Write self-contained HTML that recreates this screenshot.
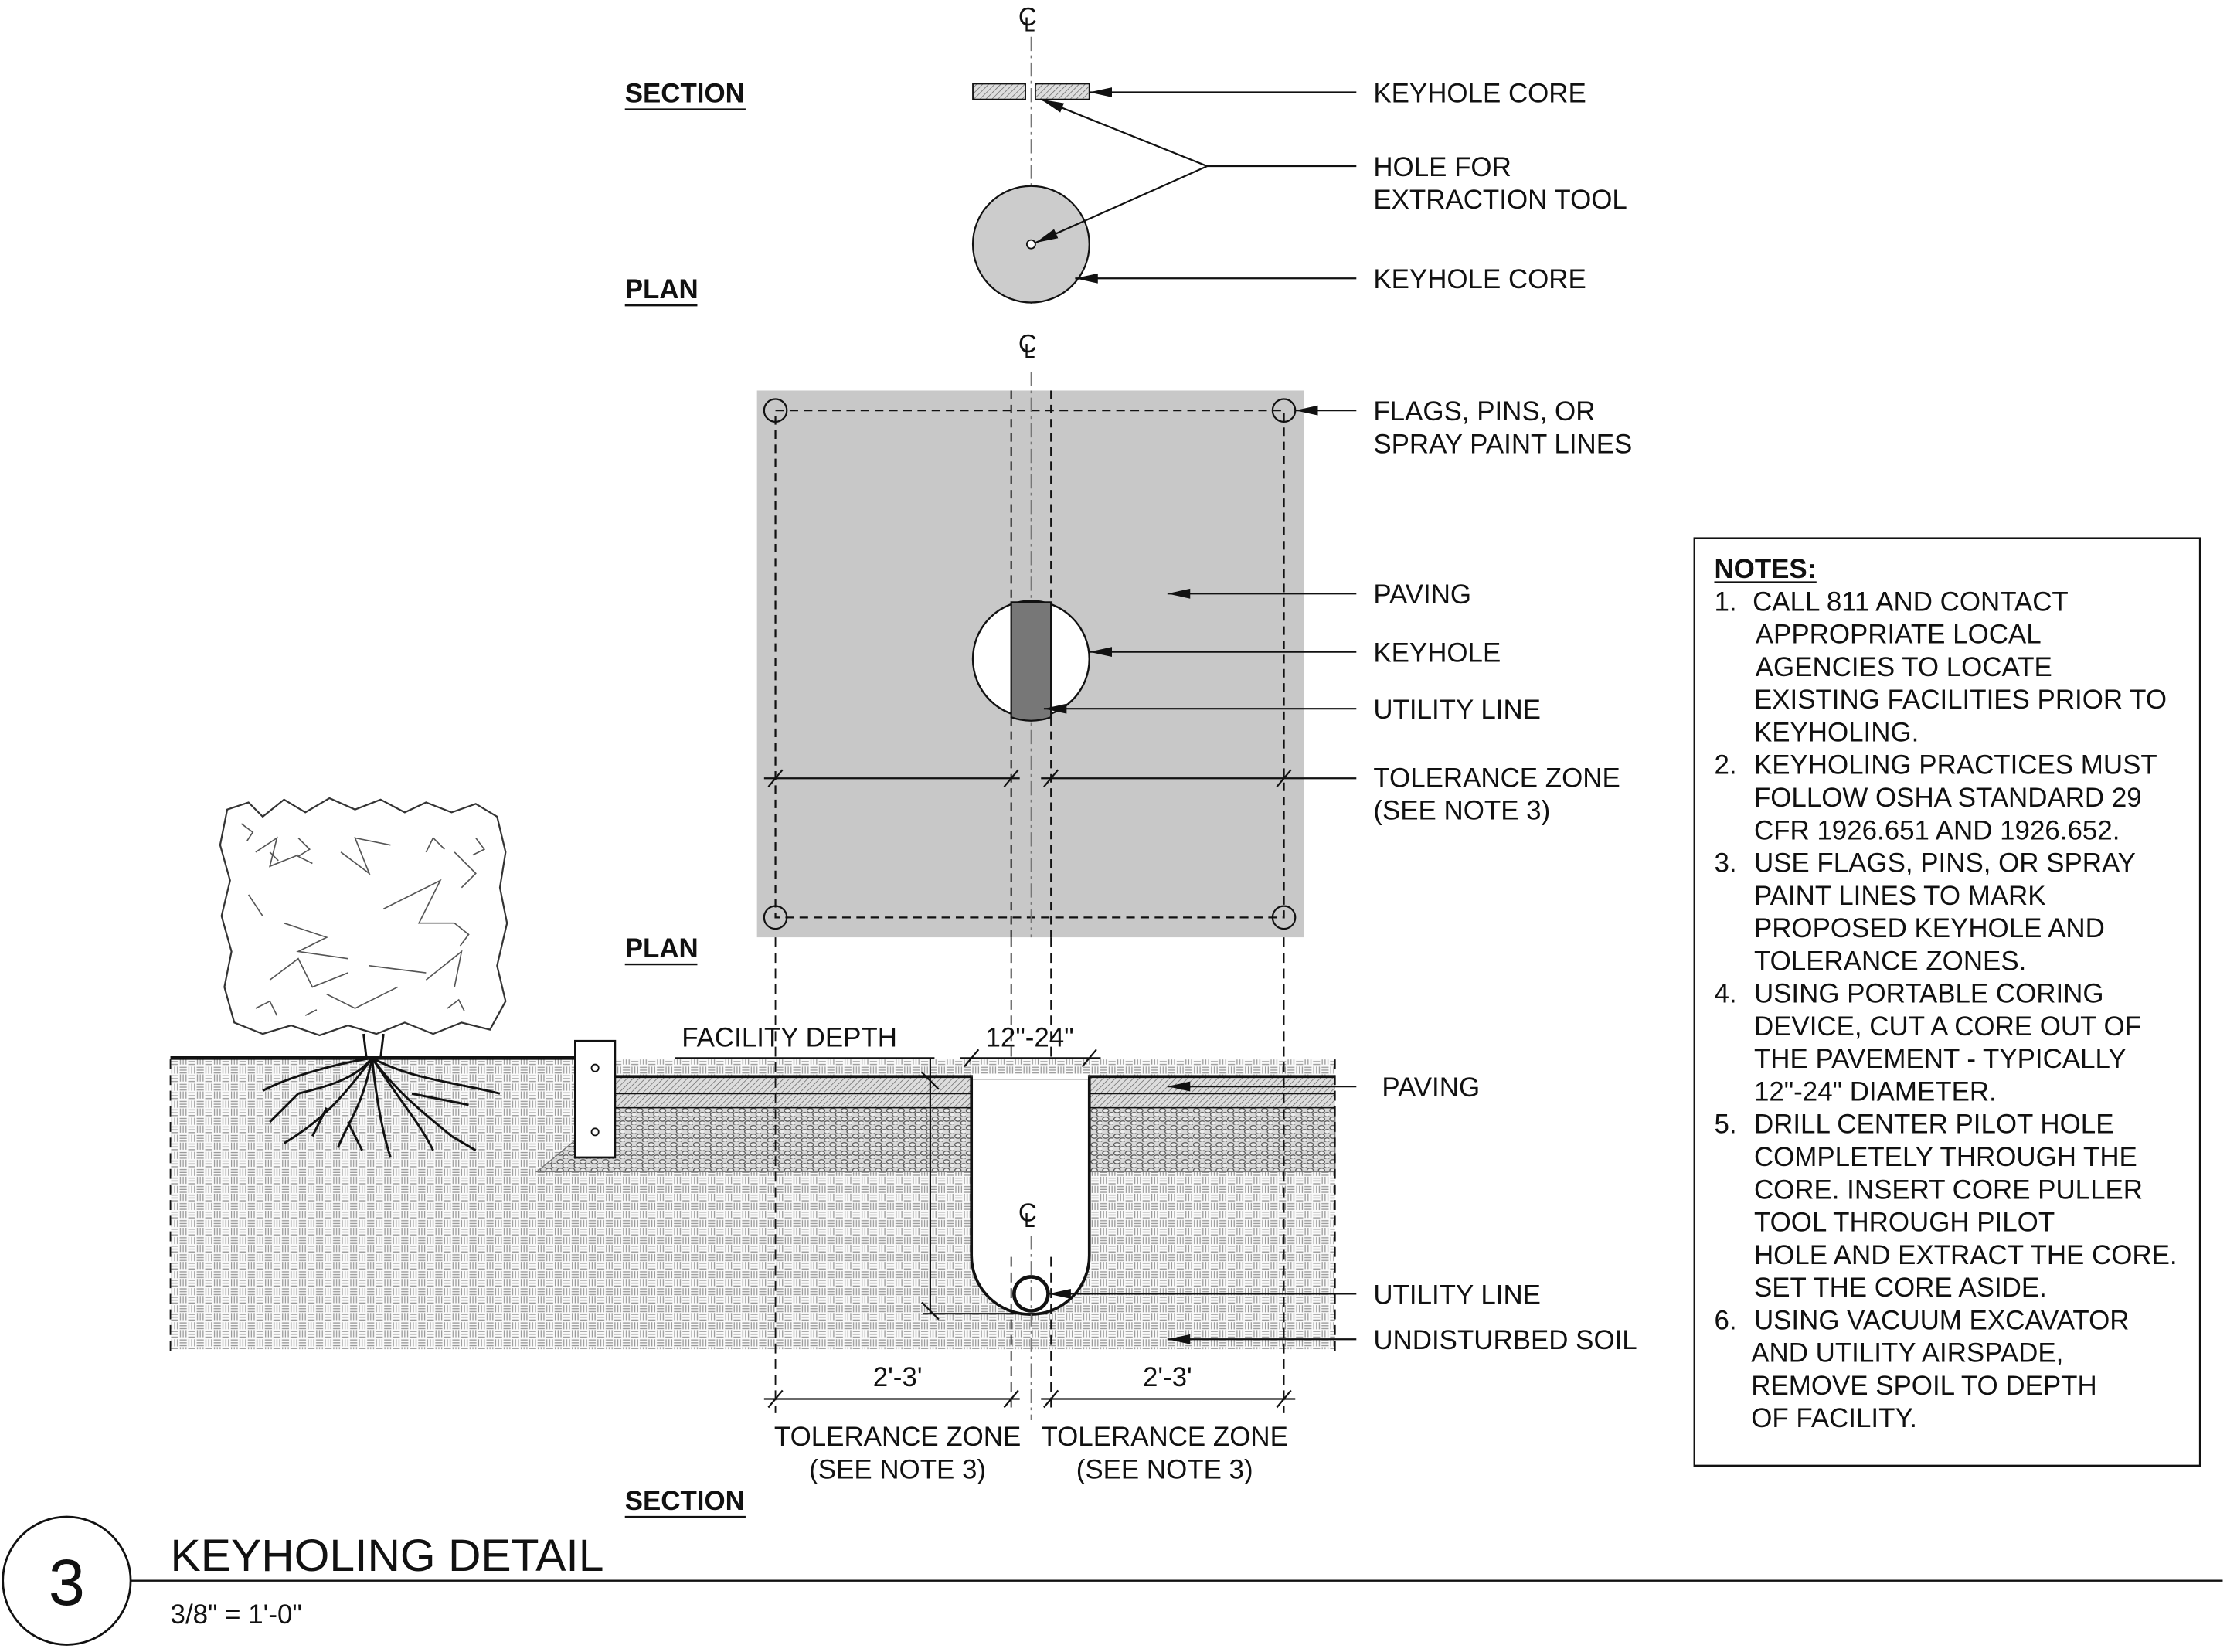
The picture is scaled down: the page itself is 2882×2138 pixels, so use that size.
<!DOCTYPE html>
<html><head><meta charset="utf-8"><style>
html,body{margin:0;padding:0;background:#fff}
svg{display:block}
text{font-family:"Liberation Sans",Arial,sans-serif;fill:#111;white-space:pre}
</style></head><body>
<svg width="2882" height="2138" viewBox="0 0 1568 1163.2" preserveAspectRatio="none" xmlns="http://www.w3.org/2000/svg">
<defs>
<marker id="ar" markerWidth="16" markerHeight="8" refX="16" refY="4" orient="auto" markerUnits="userSpaceOnUse">
<path d="M16,4 L0,0.5 L0,7.5 Z" fill="#111"/></marker>
<pattern id="soil" width="12" height="12" patternUnits="userSpaceOnUse">
<rect width="12" height="12" fill="#fafafa"/>
<path d="M0.5,1.5h5M0.5,3.5h5M0.5,5.5h5M7,0.5v5M9,0.5v5M11,0.5v5M1,7v5M3,7v5M5,7v5M6.5,7.5h5M6.5,9.5h5M6.5,11.5h5" stroke="#999" stroke-width="0.7"/>
</pattern>
<pattern id="gravel" width="8" height="6" patternUnits="userSpaceOnUse">
<rect width="8" height="6" fill="#d8d8d8"/>
<ellipse cx="2.5" cy="2" rx="2.2" ry="1.5" fill="#eee" stroke="#555" stroke-width="0.7"/>
<ellipse cx="6.5" cy="4.8" rx="2.2" ry="1.5" fill="#eee" stroke="#555" stroke-width="0.7"/>
</pattern>
<pattern id="diag" width="3" height="3" patternUnits="userSpaceOnUse" patternTransform="rotate(45)">
<rect width="3" height="3" fill="#ddd"/><line x1="0" y1="0" x2="0" y2="3" stroke="#666" stroke-width="0.8"/>
</pattern>
</defs>

<text x="440" y="72" font-size="19" font-weight="bold">SECTION</text>
<line x1="440" y1="77" x2="525" y2="77" stroke="#111" stroke-width="1.3"/>
<text x="440" y="210" font-size="19" font-weight="bold">PLAN</text>
<line x1="440" y1="215" x2="491" y2="215" stroke="#111" stroke-width="1.3"/>
<text x="717" y="18" font-size="18">C</text><text x="721" y="22" font-size="14">L</text>
<line x1="726" y1="26" x2="726" y2="214" stroke="#777" stroke-width="0.8" stroke-dasharray="10,3,2,3"/>
<rect x="685" y="59" width="37" height="11" fill="url(#diag)" stroke="#111" stroke-width="1"/>
<rect x="729" y="59" width="38" height="11" fill="url(#diag)" stroke="#111" stroke-width="1"/>
<line x1="955" y1="65" x2="767" y2="65" stroke="#111" stroke-width="1.2" marker-end="url(#ar)"/>
<circle cx="726" cy="172" r="41" fill="#ccc" stroke="#111" stroke-width="1.2"/>
<circle cx="726" cy="172" r="3" fill="#fff" stroke="#111" stroke-width="1"/>
<line x1="955" y1="117" x2="850" y2="117" stroke="#111" stroke-width="1.2"/>
<line x1="850" y1="117" x2="733" y2="70" stroke="#111" stroke-width="1.2" marker-end="url(#ar)"/>
<line x1="850" y1="117" x2="729" y2="171" stroke="#111" stroke-width="1.2" marker-end="url(#ar)"/>
<line x1="955" y1="196" x2="757" y2="196" stroke="#111" stroke-width="1.2" marker-end="url(#ar)"/>
<text x="967" y="72" font-size="19">KEYHOLE CORE</text>
<text x="967" y="124" font-size="19">HOLE FOR</text>
<text x="967" y="147" font-size="19">EXTRACTION TOOL</text>
<text x="967" y="203" font-size="19">KEYHOLE CORE</text>

<text x="717" y="248" font-size="18">C</text><text x="721" y="252" font-size="14">L</text>
<rect x="533" y="275" width="385" height="385" fill="#c8c8c8"/>
<rect x="546" y="289" width="358" height="357" fill="none" stroke="#111" stroke-width="1.2" stroke-dasharray="6,4"/>
<g fill="none" stroke="#111" stroke-width="1.2">
<circle cx="546" cy="289" r="8"/><circle cx="904" cy="289" r="8"/><circle cx="546" cy="646" r="8"/><circle cx="904" cy="646" r="8"/>
</g>
<line x1="712" y1="275" x2="712" y2="660" stroke="#111" stroke-width="1.1" stroke-dasharray="6,4"/>
<line x1="740" y1="275" x2="740" y2="660" stroke="#111" stroke-width="1.1" stroke-dasharray="6,4"/>
<line x1="726" y1="262" x2="726" y2="660" stroke="#777" stroke-width="0.8" stroke-dasharray="10,3,2,3"/>
<circle cx="726" cy="464" r="41" fill="#fff" stroke="#111" stroke-width="1.3"/>
<path d="M712,424 L740,424 L740,505 A41,41 0 0 1 712,505 Z" fill="#777" stroke="#111" stroke-width="1.2"/>
<line x1="955" y1="289" x2="912" y2="289" stroke="#111" stroke-width="1.2" marker-end="url(#ar)"/>
<line x1="955" y1="418" x2="822" y2="418" stroke="#111" stroke-width="1.2" marker-end="url(#ar)"/>
<line x1="955" y1="459" x2="767" y2="459" stroke="#111" stroke-width="1.2" marker-end="url(#ar)"/>
<line x1="955" y1="499" x2="735" y2="499" stroke="#111" stroke-width="1.2" marker-end="url(#ar)"/>
<g stroke="#111" stroke-width="1.2">
<line x1="538" y1="548" x2="718" y2="548"/><line x1="733" y1="548" x2="955" y2="548"/>
<line x1="541" y1="554" x2="551" y2="542"/><line x1="707" y1="554" x2="717" y2="542"/>
<line x1="735" y1="554" x2="745" y2="542"/><line x1="899" y1="554" x2="909" y2="542"/>
</g>
<text x="967" y="296" font-size="19">FLAGS, PINS, OR</text>
<text x="967" y="319" font-size="19">SPRAY PAINT LINES</text>
<text x="967" y="425" font-size="19">PAVING</text>
<text x="967" y="466" font-size="19">KEYHOLE</text>
<text x="967" y="506" font-size="19">UTILITY LINE</text>
<text x="967" y="554" font-size="19">TOLERANCE ZONE</text>
<text x="967" y="577" font-size="19">(SEE NOTE 3)</text>
<text x="440" y="674" font-size="19" font-weight="bold">PLAN</text>
<line x1="440" y1="679" x2="491" y2="679" stroke="#111" stroke-width="1.3"/>

<rect x="120" y="746" width="820" height="204" fill="url(#soil)"/>
<polygon points="433,780 940,780 940,825 378,825" fill="url(#gravel)" stroke="#777" stroke-width="0.8"/>
<rect x="433" y="758" width="507" height="12" fill="url(#diag)"/>
<rect x="433" y="770" width="507" height="10" fill="url(#diag)"/>
<line x1="433" y1="758" x2="940" y2="758" stroke="#111" stroke-width="2"/>
<line x1="433" y1="770" x2="940" y2="770" stroke="#111" stroke-width="1"/>
<line x1="433" y1="780" x2="940" y2="780" stroke="#111" stroke-width="0.8"/>
<line x1="120" y1="745" x2="405" y2="745" stroke="#111" stroke-width="2.5"/>
<rect x="405" y="733" width="28" height="82" fill="#fff" stroke="#111" stroke-width="1.5"/>
<circle cx="419" cy="752" r="2.5" fill="none" stroke="#111"/><circle cx="419" cy="797" r="2.5" fill="none" stroke="#111"/>
<path d="M684,758 L684,884 A41,41 0 0 0 767,884 L767,758" fill="#fff" stroke="#111" stroke-width="2"/>
<rect x="685" y="756" width="81" height="4" fill="#fff"/>
<line x1="685" y1="760" x2="766" y2="760" stroke="#aaa" stroke-width="0.8"/>
<circle cx="726" cy="911" r="12" fill="#fff" stroke="#111" stroke-width="2.5"/>
<text x="717" y="860" font-size="18">C</text><text x="721" y="864" font-size="14">L</text>
<g stroke="#111" stroke-width="1" stroke-dasharray="7,4">
<line x1="120" y1="746" x2="120" y2="955"/><line x1="940" y1="746" x2="940" y2="955"/>
<line x1="546" y1="660" x2="546" y2="995"/><line x1="904" y1="660" x2="904" y2="995"/>
<line x1="712" y1="660" x2="712" y2="745"/><line x1="740" y1="660" x2="740" y2="745"/>
<line x1="712" y1="885" x2="712" y2="995"/><line x1="740" y1="885" x2="740" y2="995"/>
</g>
<line x1="726" y1="870" x2="726" y2="1000" stroke="#777" stroke-width="0.8" stroke-dasharray="10,3,2,3"/>
<path d="M160,570 L175,565 L185,575 L200,563 L215,572 L232,562 L250,570 L268,563 L285,572 L300,565 L318,572 L335,566 L350,575 L356,600 L352,625 L357,650 L350,680 L356,705 L345,725 L325,720 L305,728 L285,720 L265,728 L245,722 L225,729 L205,722 L185,728 L165,720 L158,695 L163,670 L156,645 L162,620 L155,595 Z" fill="#fff" stroke="#333" stroke-width="1.2"/>
<g fill="none" stroke="#555" stroke-width="0.9">
<path d="M180,600 l15,-10 l-5,20 l20,-8 M240,600 l20,15 l-10,-25 l25,5 M200,650 l30,10 l-20,10 l35,5 M270,640 l40,-20 l-15,30 l25,0 M190,690 l20,-15 l10,20 l25,-10 M300,690 l25,-20 l-5,25 M230,700 l20,10 l30,-15 M320,600 l15,15 l-10,10 M175,630 l10,15 M260,680 l40,5"/>
<path d="M210,590 l8,8 l-8,5 l10,5 M320,650 l10,8 l-6,8 M180,710 l10,-5 l5,10 M300,600 l5,-10 l8,8 M170,580 l8,6 l-4,6 M335,590 l6,8 l-8,4 M315,710 l8,-6 l4,8 M190,600 l6,6 M215,715 l8,-4"/>
</g>
<g fill="none" stroke="#111" stroke-width="1.6">
<path d="M256,728 L258,745 M270,728 L268,745"/>
<path d="M262,745 C250,760 230,765 210,770 M262,745 C240,775 225,790 200,805 M262,745 C255,780 245,790 238,808 M262,745 C265,775 270,800 275,815 M262,745 C280,770 300,785 318,800 M262,745 C290,760 320,762 352,770 M262,745 C230,750 200,760 185,768 M262,745 C285,780 295,790 305,810 M230,780 L220,800 M290,770 L330,778 M245,790 L255,810 M210,770 L190,790 M318,800 L335,810"/>
</g>
<text x="480" y="737" font-size="19">FACILITY DEPTH</text>
<g stroke="#111" stroke-width="1.2">
<line x1="475" y1="745" x2="658" y2="745"/>
<line x1="655" y1="745" x2="655" y2="925"/>
<line x1="650" y1="925" x2="735" y2="925"/>
<line x1="649" y1="755" x2="661" y2="767"/><line x1="649" y1="917" x2="661" y2="929"/>
<line x1="676" y1="745" x2="775" y2="745"/>
<line x1="679" y1="751" x2="689" y2="739"/><line x1="762" y1="751" x2="772" y2="739"/>
<line x1="538" y1="985" x2="718" y2="985"/><line x1="733" y1="985" x2="912" y2="985"/>
<line x1="541" y1="991" x2="551" y2="979"/><line x1="707" y1="991" x2="717" y2="979"/>
<line x1="735" y1="991" x2="745" y2="979"/><line x1="899" y1="991" x2="909" y2="979"/>
</g>
<text x="725" y="737" font-size="19" text-anchor="middle">12"-24"</text>
<line x1="955" y1="765" x2="822" y2="765" stroke="#111" stroke-width="1.2" marker-end="url(#ar)"/>
<line x1="955" y1="911" x2="738" y2="911" stroke="#111" stroke-width="1.2" marker-end="url(#ar)"/>
<line x1="955" y1="943" x2="822" y2="943" stroke="#111" stroke-width="1.2" marker-end="url(#ar)"/>
<text x="973" y="772" font-size="19">PAVING</text>
<text x="967" y="918" font-size="19">UTILITY LINE</text>
<text x="967" y="950" font-size="19">UNDISTURBED SOIL</text>
<text x="632" y="976" font-size="19" text-anchor="middle">2'-3'</text>
<text x="822" y="976" font-size="19" text-anchor="middle">2'-3'</text>
<text x="632" y="1018" font-size="19" text-anchor="middle">TOLERANCE ZONE</text>
<text x="632" y="1041" font-size="19" text-anchor="middle">(SEE NOTE 3)</text>
<text x="820" y="1018" font-size="19" text-anchor="middle">TOLERANCE ZONE</text>
<text x="820" y="1041" font-size="19" text-anchor="middle">(SEE NOTE 3)</text>
<text x="440" y="1063" font-size="19" font-weight="bold">SECTION</text>
<line x1="440" y1="1068" x2="525" y2="1068" stroke="#111" stroke-width="1.3"/>

<circle cx="47" cy="1113" r="45" fill="none" stroke="#111" stroke-width="1.5"/>
<text x="47" y="1130" font-size="46" text-anchor="middle">3</text>
<line x1="92" y1="1113" x2="1565" y2="1113" stroke="#111" stroke-width="1.3"/>
<text x="120" y="1106" font-size="32">KEYHOLING DETAIL</text>
<text x="120" y="1143" font-size="19">3/8" = 1'-0"</text>

<rect x="1193" y="379" width="356" height="653" fill="#fff" stroke="#111" stroke-width="1.3"/>
<g font-size="19">
<text x="1207" y="407" font-weight="bold">NOTES:</text>
<text x="1207" y="430">1.</text><text x="1234" y="430">CALL 811 AND CONTACT</text>
<text x="1236" y="453">APPROPRIATE LOCAL</text>
<text x="1236" y="476">AGENCIES TO LOCATE</text>
<text x="1235" y="499">EXISTING FACILITIES PRIOR TO</text>
<text x="1235" y="522">KEYHOLING.</text>
<text x="1207" y="545">2.</text><text x="1235" y="545">KEYHOLING PRACTICES MUST</text>
<text x="1235" y="568">FOLLOW OSHA STANDARD 29</text>
<text x="1235" y="591">CFR 1926.651 AND 1926.652.</text>
<text x="1207" y="614">3.</text><text x="1235" y="614">USE FLAGS, PINS, OR SPRAY</text>
<text x="1235" y="637">PAINT LINES TO MARK</text>
<text x="1235" y="660">PROPOSED KEYHOLE AND</text>
<text x="1235" y="683">TOLERANCE ZONES.</text>
<text x="1207" y="706">4.</text><text x="1235" y="706">USING PORTABLE CORING</text>
<text x="1235" y="729">DEVICE, CUT A CORE OUT OF</text>
<text x="1235" y="752">THE PAVEMENT - TYPICALLY</text>
<text x="1235" y="775">12"-24" DIAMETER.</text>
<text x="1207" y="798">5.</text><text x="1235" y="798">DRILL CENTER PILOT HOLE</text>
<text x="1235" y="821">COMPLETELY THROUGH THE</text>
<text x="1235" y="844">CORE. INSERT CORE PULLER</text>
<text x="1235" y="867">TOOL THROUGH PILOT</text>
<text x="1235" y="890">HOLE AND EXTRACT THE CORE.</text>
<text x="1235" y="913">SET THE CORE ASIDE.</text>
<text x="1207" y="936">6.</text><text x="1235" y="936">USING VACUUM EXCAVATOR</text>
<text x="1233" y="959">AND UTILITY AIRSPADE,</text>
<text x="1233" y="982">REMOVE SPOIL TO DEPTH</text>
<text x="1233" y="1005">OF FACILITY.</text>
</g>
<line x1="1207" y1="410" x2="1279" y2="410" stroke="#111" stroke-width="1.3"/>
</svg>
</body></html>
